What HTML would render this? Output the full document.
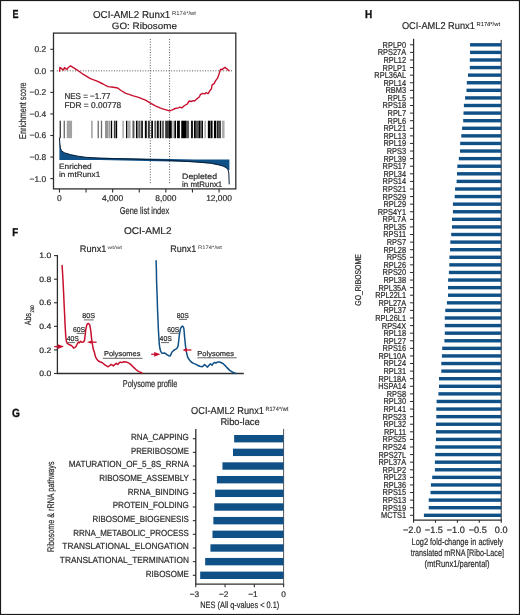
<!DOCTYPE html>
<html><head><meta charset="utf-8"><style>
html,body{margin:0;padding:0;background:#fff;}
body{width:520px;height:615px;overflow:hidden;}
svg{display:block;font-family:"Liberation Sans",sans-serif;will-change:transform;text-rendering:geometricPrecision;}
</style></head><body>
<svg width="520" height="615" viewBox="0 0 520 615">
<rect x="0" y="0" width="520" height="615" fill="#fff"/>
<text x="12.60" y="18.10" font-size="11.63" textLength="6.00" lengthAdjust="spacingAndGlyphs" fill="#111" font-weight="bold" stroke="#111" stroke-width="0.35">E</text>
<text x="93.00" y="17.90" font-size="10.03" textLength="77.30" lengthAdjust="spacingAndGlyphs" fill="#2b2b2b" stroke="#2b2b2b" stroke-width="0.2">OCI-AML2 Runx1</text>
<text x="172.00" y="14.80" font-size="5.52" textLength="24.00" lengthAdjust="spacingAndGlyphs" fill="#2b2b2b">R174*/wt</text>
<text x="111.80" y="29.30" font-size="9.30" textLength="65.10" lengthAdjust="spacingAndGlyphs" fill="#2b2b2b" stroke="#2b2b2b" stroke-width="0.2">GO: Ribosome</text>
<rect x="53.5" y="33.1" width="182.30" height="155.80" fill="none" stroke="#2e2e2e" stroke-width="1.3"/>
<line x1="50.30" y1="49.30" x2="53.50" y2="49.30" stroke="#2e2e2e" stroke-width="1.1"/>
<text x="34.48" y="52.20" font-size="8.36" textLength="11.62" lengthAdjust="spacingAndGlyphs" fill="#2b2b2b" stroke="#2b2b2b" stroke-width="0.2">0.2</text>
<line x1="50.30" y1="70.85" x2="53.50" y2="70.85" stroke="#2e2e2e" stroke-width="1.1"/>
<text x="34.48" y="73.75" font-size="8.36" textLength="11.62" lengthAdjust="spacingAndGlyphs" fill="#2b2b2b" stroke="#2b2b2b" stroke-width="0.2">0.0</text>
<line x1="50.30" y1="92.40" x2="53.50" y2="92.40" stroke="#2e2e2e" stroke-width="1.1"/>
<text x="29.60" y="95.30" font-size="8.36" textLength="16.50" lengthAdjust="spacingAndGlyphs" fill="#2b2b2b" stroke="#2b2b2b" stroke-width="0.2">−0.2</text>
<line x1="50.30" y1="113.95" x2="53.50" y2="113.95" stroke="#2e2e2e" stroke-width="1.1"/>
<text x="29.60" y="116.85" font-size="8.36" textLength="16.50" lengthAdjust="spacingAndGlyphs" fill="#2b2b2b" stroke="#2b2b2b" stroke-width="0.2">−0.4</text>
<line x1="50.30" y1="135.50" x2="53.50" y2="135.50" stroke="#2e2e2e" stroke-width="1.1"/>
<text x="29.60" y="138.40" font-size="8.36" textLength="16.50" lengthAdjust="spacingAndGlyphs" fill="#2b2b2b" stroke="#2b2b2b" stroke-width="0.2">−0.6</text>
<line x1="50.30" y1="157.05" x2="53.50" y2="157.05" stroke="#2e2e2e" stroke-width="1.1"/>
<text x="29.60" y="159.95" font-size="8.36" textLength="16.50" lengthAdjust="spacingAndGlyphs" fill="#2b2b2b" stroke="#2b2b2b" stroke-width="0.2">−0.8</text>
<line x1="50.30" y1="178.60" x2="53.50" y2="178.60" stroke="#2e2e2e" stroke-width="1.1"/>
<text x="29.60" y="181.50" font-size="8.36" textLength="16.50" lengthAdjust="spacingAndGlyphs" fill="#2b2b2b" stroke="#2b2b2b" stroke-width="0.2">−1.0</text>
<line x1="59.45" y1="188.90" x2="59.45" y2="192.60" stroke="#2e2e2e" stroke-width="1.1"/>
<line x1="86.05" y1="188.90" x2="86.05" y2="192.60" stroke="#2e2e2e" stroke-width="1.1"/>
<line x1="112.65" y1="188.90" x2="112.65" y2="192.60" stroke="#2e2e2e" stroke-width="1.1"/>
<line x1="139.25" y1="188.90" x2="139.25" y2="192.60" stroke="#2e2e2e" stroke-width="1.1"/>
<line x1="165.85" y1="188.90" x2="165.85" y2="192.60" stroke="#2e2e2e" stroke-width="1.1"/>
<line x1="192.45" y1="188.90" x2="192.45" y2="192.60" stroke="#2e2e2e" stroke-width="1.1"/>
<line x1="219.05" y1="188.90" x2="219.05" y2="192.60" stroke="#2e2e2e" stroke-width="1.1"/>
<text x="57.11" y="200.80" font-size="8.43" textLength="4.69" lengthAdjust="spacingAndGlyphs" fill="#2b2b2b" stroke="#2b2b2b" stroke-width="0.2">0</text>
<text x="102.10" y="200.80" font-size="8.43" textLength="21.10" lengthAdjust="spacingAndGlyphs" fill="#2b2b2b" stroke="#2b2b2b" stroke-width="0.2">4,000</text>
<text x="155.30" y="200.80" font-size="8.43" textLength="21.10" lengthAdjust="spacingAndGlyphs" fill="#2b2b2b" stroke="#2b2b2b" stroke-width="0.2">8,000</text>
<text x="206.16" y="200.80" font-size="8.43" textLength="25.78" lengthAdjust="spacingAndGlyphs" fill="#2b2b2b" stroke="#2b2b2b" stroke-width="0.2">12,000</text>
<text x="119.70" y="213.60" font-size="9.88" textLength="49.50" lengthAdjust="spacingAndGlyphs" fill="#2b2b2b" stroke="#2b2b2b" stroke-width="0.2">Gene list index</text>
<text transform="rotate(-90)" x="-138.90" y="25.90" font-size="9.88" textLength="56.50" lengthAdjust="spacingAndGlyphs" fill="#2b2b2b" stroke="#2b2b2b" stroke-width="0.2">Enrichment score</text>
<line x1="56.8" y1="70.85" x2="232.3" y2="70.85" stroke="#555" stroke-width="1" stroke-dasharray="1 1.6"/>
<line x1="150.3" y1="39" x2="150.3" y2="183.2" stroke="#555" stroke-width="1" stroke-dasharray="1 1.6"/>
<line x1="169.6" y1="39" x2="169.6" y2="183.2" stroke="#555" stroke-width="1" stroke-dasharray="1 1.6"/>
<rect x="59.65" y="120.7" width="1.20" height="17.5" fill="#000" fill-opacity="0.85"/>
<rect x="63.65" y="120.7" width="1.20" height="17.5" fill="#000" fill-opacity="0.65"/>
<rect x="66.75" y="120.7" width="5.30" height="17.5" fill="#000" fill-opacity="0.36"/>
<rect x="91.15" y="120.7" width="1.50" height="17.5" fill="#000" fill-opacity="0.39"/>
<rect x="97.55" y="120.7" width="1.40" height="17.5" fill="#000" fill-opacity="0.55"/>
<rect x="100.85" y="120.7" width="1.30" height="17.5" fill="#000" fill-opacity="0.59"/>
<rect x="105.05" y="120.7" width="2.90" height="17.5" fill="#000" fill-opacity="0.43"/>
<rect x="108.45" y="120.7" width="1.40" height="17.5" fill="#000" fill-opacity="0.45"/>
<rect x="110.75" y="120.7" width="1.40" height="17.5" fill="#000" fill-opacity="1.00"/>
<rect x="113.85" y="120.7" width="1.70" height="17.5" fill="#000" fill-opacity="0.78"/>
<rect x="115.85" y="120.7" width="1.30" height="17.5" fill="#000" fill-opacity="1.00"/>
<rect x="122.45" y="120.7" width="1.30" height="17.5" fill="#000" fill-opacity="0.39"/>
<rect x="126.05" y="120.7" width="1.30" height="17.5" fill="#000" fill-opacity="1.00"/>
<rect x="127.95" y="120.7" width="2.70" height="17.5" fill="#000" fill-opacity="0.33"/>
<rect x="132.45" y="120.7" width="2.00" height="17.5" fill="#000" fill-opacity="0.65"/>
<rect x="135.95" y="120.7" width="1.60" height="17.5" fill="#000" fill-opacity="1.00"/>
<rect x="138.25" y="120.7" width="2.30" height="17.5" fill="#000" fill-opacity="0.59"/>
<rect x="141.25" y="120.7" width="1.60" height="17.5" fill="#000" fill-opacity="1.00"/>
<rect x="144.85" y="120.7" width="1.90" height="17.5" fill="#000" fill-opacity="1.00"/>
<rect x="147.85" y="120.7" width="2.00" height="17.5" fill="#000" fill-opacity="0.78"/>
<rect x="151.25" y="120.7" width="1.70" height="17.5" fill="#000" fill-opacity="1.00"/>
<rect x="154.35" y="120.7" width="2.00" height="17.5" fill="#000" fill-opacity="0.65"/>
<rect x="157.05" y="120.7" width="1.70" height="17.5" fill="#000" fill-opacity="1.00"/>
<rect x="159.75" y="120.7" width="1.30" height="17.5" fill="#000" fill-opacity="1.00"/>
<rect x="161.65" y="120.7" width="2.40" height="17.5" fill="#000" fill-opacity="0.59"/>
<rect x="165.15" y="120.7" width="3.50" height="17.5" fill="#000" fill-opacity="0.78"/>
<rect x="168.55" y="120.7" width="3.20" height="17.5" fill="#000" fill-opacity="1.00"/>
<rect x="172.45" y="120.7" width="1.30" height="17.5" fill="#000" fill-opacity="0.39"/>
<rect x="174.35" y="120.7" width="1.70" height="17.5" fill="#000" fill-opacity="1.00"/>
<rect x="177.05" y="120.7" width="2.80" height="17.5" fill="#000" fill-opacity="1.00"/>
<rect x="181.25" y="120.7" width="4.80" height="17.5" fill="#000" fill-opacity="1.00"/>
<rect x="185.95" y="120.7" width="3.10" height="17.5" fill="#000" fill-opacity="0.65"/>
<rect x="190.95" y="120.7" width="2.00" height="17.5" fill="#000" fill-opacity="0.91"/>
<rect x="193.95" y="120.7" width="1.70" height="17.5" fill="#000" fill-opacity="1.00"/>
<rect x="195.35" y="120.7" width="3.30" height="17.5" fill="#000" fill-opacity="0.65"/>
<rect x="198.55" y="120.7" width="1.70" height="17.5" fill="#000" fill-opacity="1.00"/>
<rect x="200.15" y="120.7" width="1.60" height="17.5" fill="#000" fill-opacity="0.59"/>
<rect x="201.65" y="120.7" width="1.30" height="17.5" fill="#000" fill-opacity="1.00"/>
<rect x="204.35" y="120.7" width="1.70" height="17.5" fill="#000" fill-opacity="0.33"/>
<rect x="207.85" y="120.7" width="2.40" height="17.5" fill="#000" fill-opacity="1.00"/>
<rect x="210.55" y="120.7" width="2.00" height="17.5" fill="#000" fill-opacity="1.00"/>
<rect x="213.95" y="120.7" width="2.10" height="17.5" fill="#000" fill-opacity="1.00"/>
<rect x="216.65" y="120.7" width="1.70" height="17.5" fill="#000" fill-opacity="0.85"/>
<rect x="218.25" y="120.7" width="2.80" height="17.5" fill="#000" fill-opacity="0.72"/>
<rect x="222.05" y="120.7" width="2.50" height="17.5" fill="#000" fill-opacity="0.33"/>
<path d="M59.40,138.10 L59.80,142.70 L60.40,148.00 L61.50,150.80 L64.20,152.70 L70.40,154.60 L78.10,156.20 L85.80,157.30 L100.00,157.80 L170.00,159.10 L195.00,159.60 L229.40,159.60 L229.40,170.00 L228.10,170.00 L226.50,168.10 L223.50,166.50 L218.10,165.00 L210.40,163.50 L195.00,162.30 L170.00,161.40 L100.00,160.10 L59.40,160.10 Z" fill="#0f5087"/>
<polyline points="59.40,138.10 59.80,142.70 60.40,148.00 61.50,150.80 64.20,152.70 70.40,154.60 78.10,156.20 85.80,157.30 100.00,158.20 130.00,159.00 170.00,160.30 195.00,161.90 210.40,163.20 218.10,164.70 223.50,166.20 226.50,167.90 228.10,169.80 228.80,173.00 229.20,184.00" fill="none" stroke="#0b1e33" stroke-width="1.0" stroke-linejoin="round" stroke-linecap="round"/>
<text x="59.00" y="168.60" font-size="7.70" textLength="32.70" lengthAdjust="spacingAndGlyphs" fill="#2b2b2b" stroke="#2b2b2b" stroke-width="0.2">Enriched</text>
<text x="59.00" y="176.75" font-size="7.70" textLength="41.20" lengthAdjust="spacingAndGlyphs" fill="#2b2b2b" stroke="#2b2b2b" stroke-width="0.2">in mtRunx1</text>
<text x="182.10" y="179.00" font-size="7.85" textLength="34.90" lengthAdjust="spacingAndGlyphs" fill="#2b2b2b" stroke="#2b2b2b" stroke-width="0.2">Depleted</text>
<text x="182.10" y="186.60" font-size="7.85" textLength="40.20" lengthAdjust="spacingAndGlyphs" fill="#2b2b2b" stroke="#2b2b2b" stroke-width="0.2">in mtRunx1</text>
<polyline points="59.60,71.20 59.90,67.40 63.40,70.10 64.50,67.60 66.80,69.50 68.00,67.80 70.60,65.80 76.90,69.80 83.00,74.20 90.40,78.60 97.10,81.20 103.00,84.00 107.90,86.60 113.30,87.30 117.70,88.00 121.00,90.50 125.80,93.40 129.00,94.30 132.50,95.70 138.60,97.40 146.00,100.40 150.00,102.80 155.40,105.80 160.00,107.80 163.50,109.10 168.80,110.70 169.70,110.90 172.40,109.80 175.10,108.50 178.50,107.90 179.80,107.10 181.80,107.90 184.50,105.50 187.20,104.10 189.20,101.00 191.20,101.50 193.30,100.60 194.60,101.00 197.30,98.40 199.30,97.00 200.30,94.70 202.70,93.40 204.70,93.90 206.00,92.70 208.10,93.60 210.10,90.30 211.40,88.90 212.10,84.90 214.10,83.60 215.50,80.90 217.50,78.20 218.80,74.80 220.20,70.10 220.90,69.20 222.20,69.70 223.50,68.30 224.90,67.40 226.20,68.30 228.30,70.10 229.10,70.60" fill="none" stroke="#c8102e" stroke-width="1.4" stroke-linejoin="round" stroke-linecap="round"/>
<text x="64.40" y="99.40" font-size="8.43" textLength="46.00" lengthAdjust="spacingAndGlyphs" fill="#2b2b2b" stroke="#2b2b2b" stroke-width="0.2">NES = −1.77</text>
<text x="64.40" y="107.50" font-size="8.43" textLength="56.80" lengthAdjust="spacingAndGlyphs" fill="#2b2b2b" stroke="#2b2b2b" stroke-width="0.2">FDR = 0.00778</text>
<text x="12.30" y="235.70" font-size="11.34" textLength="5.90" lengthAdjust="spacingAndGlyphs" fill="#111" font-weight="bold" stroke="#111" stroke-width="0.35">F</text>
<text x="123.90" y="234.10" font-size="9.74" textLength="47.70" lengthAdjust="spacingAndGlyphs" fill="#2b2b2b" stroke="#2b2b2b" stroke-width="0.2">OCI-AML2</text>
<text x="79.80" y="251.90" font-size="9.59" textLength="26.70" lengthAdjust="spacingAndGlyphs" fill="#2b2b2b" stroke="#2b2b2b" stroke-width="0.2">Runx1</text>
<text x="107.61" y="249.30" font-size="4.94" textLength="14.49" lengthAdjust="spacingAndGlyphs" fill="#2b2b2b">wt/wt</text>
<text x="170.25" y="252.10" font-size="9.59" textLength="26.00" lengthAdjust="spacingAndGlyphs" fill="#2b2b2b" stroke="#2b2b2b" stroke-width="0.2">Runx1</text>
<text x="198.10" y="249.10" font-size="5.09" textLength="23.80" lengthAdjust="spacingAndGlyphs" fill="#2b2b2b">R174*/wt</text>
<line x1="57.40" y1="255.00" x2="57.40" y2="373.50" stroke="#2e2e2e" stroke-width="1.3"/>
<line x1="56.80" y1="373.50" x2="243.80" y2="373.50" stroke="#2e2e2e" stroke-width="1.3"/>
<line x1="54.00" y1="255.60" x2="57.40" y2="255.60" stroke="#2e2e2e" stroke-width="1.1"/>
<text x="39.20" y="258.25" font-size="7.85" textLength="12.00" lengthAdjust="spacingAndGlyphs" fill="#2b2b2b" stroke="#2b2b2b" stroke-width="0.2">1.0</text>
<line x1="54.00" y1="279.18" x2="57.40" y2="279.18" stroke="#2e2e2e" stroke-width="1.1"/>
<text x="39.20" y="281.83" font-size="7.85" textLength="12.00" lengthAdjust="spacingAndGlyphs" fill="#2b2b2b" stroke="#2b2b2b" stroke-width="0.2">0.8</text>
<line x1="54.00" y1="302.76" x2="57.40" y2="302.76" stroke="#2e2e2e" stroke-width="1.1"/>
<text x="39.20" y="305.41" font-size="7.85" textLength="12.00" lengthAdjust="spacingAndGlyphs" fill="#2b2b2b" stroke="#2b2b2b" stroke-width="0.2">0.6</text>
<line x1="54.00" y1="326.34" x2="57.40" y2="326.34" stroke="#2e2e2e" stroke-width="1.1"/>
<text x="39.20" y="328.99" font-size="7.85" textLength="12.00" lengthAdjust="spacingAndGlyphs" fill="#2b2b2b" stroke="#2b2b2b" stroke-width="0.2">0.4</text>
<line x1="54.00" y1="349.92" x2="57.40" y2="349.92" stroke="#2e2e2e" stroke-width="1.1"/>
<text x="39.20" y="352.57" font-size="7.85" textLength="12.00" lengthAdjust="spacingAndGlyphs" fill="#2b2b2b" stroke="#2b2b2b" stroke-width="0.2">0.2</text>
<line x1="54.00" y1="373.50" x2="57.40" y2="373.50" stroke="#2e2e2e" stroke-width="1.1"/>
<text x="39.20" y="376.15" font-size="7.85" textLength="12.00" lengthAdjust="spacingAndGlyphs" fill="#2b2b2b" stroke="#2b2b2b" stroke-width="0.2">0.0</text>
<text transform="rotate(-90)" x="-325.20" y="31.00" font-size="9.16" textLength="12.40" lengthAdjust="spacingAndGlyphs" fill="#2b2b2b" stroke="#2b2b2b" stroke-width="0.2">Abs</text>
<text transform="rotate(-90)" x="-312.40" y="34.20" font-size="5.09" textLength="7.00" lengthAdjust="spacingAndGlyphs" fill="#2b2b2b" stroke="#2b2b2b" stroke-width="0.2">260</text>
<text x="122.80" y="386.60" font-size="9.88" textLength="54.50" lengthAdjust="spacingAndGlyphs" fill="#2b2b2b" stroke="#2b2b2b" stroke-width="0.2">Polysome profile</text>
<polyline points="62.10,265.50 62.70,275.00 63.20,284.30 63.70,295.00 64.20,306.20 64.70,316.00 65.10,325.20 65.50,332.00 65.80,337.00 66.40,341.30 67.30,343.40 69.00,344.50 70.80,345.20 72.50,346.50 73.60,348.00 74.60,347.80 76.00,346.50 77.20,344.00 78.30,342.00 79.40,342.80 80.60,341.30 81.80,342.20 83.40,342.00 84.50,340.50 85.30,334.00 85.80,329.20 86.90,324.60 88.00,323.40 88.90,323.80 89.80,325.20 90.50,329.00 91.00,332.70 91.50,338.00 92.10,342.00 93.20,349.00 94.40,352.30 95.50,356.90 97.00,359.50 98.40,361.00 100.50,362.00 102.40,362.70 104.00,364.20 105.30,365.20 107.00,366.20 108.20,366.70 109.80,365.50 111.10,364.40 112.30,365.20 113.40,365.90 115.00,364.30 116.30,363.30 117.20,364.20 118.00,364.40 119.30,362.80 120.30,362.10 121.80,362.60 123.80,361.80 125.50,361.90 127.20,362.30 129.00,363.20 130.70,364.40 132.50,366.20 134.20,367.90 136.00,369.50 137.60,370.80 139.00,371.60 140.50,372.20 142.20,373.10" fill="none" stroke="#c8102e" stroke-width="1.5" stroke-linejoin="round" stroke-linecap="round"/>
<polyline points="156.10,260.70 156.40,271.00 156.60,281.80 157.10,295.00 157.50,308.60 158.00,320.00 158.40,330.00 158.90,338.00 159.30,344.30 159.90,348.50 160.70,351.40 162.00,353.30 163.20,353.20 164.60,352.90 166.00,354.00 167.30,354.80 168.70,355.70 170.00,356.00 171.00,354.50 171.80,352.30 173.60,350.50 175.00,349.60 176.30,348.80 177.30,347.80 178.00,346.10 178.70,341.00 179.30,335.40 180.00,331.00 180.70,328.20 181.60,326.60 182.50,326.10 183.20,326.80 183.80,328.20 184.20,332.00 184.60,337.10 185.20,343.00 185.70,347.90 186.60,352.80 187.60,357.00 189.30,359.80 191.20,362.00 193.50,363.40 196.10,364.40 198.00,365.50 199.80,366.30 202.30,366.80 204.60,364.60 206.00,365.80 207.50,367.10 209.00,365.20 210.40,363.90 212.10,365.20 213.30,363.40 214.40,362.50 216.00,363.00 217.90,361.90 219.50,362.00 220.80,362.50 222.30,363.20 223.70,364.20 225.20,365.60 226.50,367.10 228.30,368.90 230.00,370.60 231.80,371.70 233.50,372.50 235.80,373.50" fill="none" stroke="#0f5087" stroke-width="1.5" stroke-linejoin="round" stroke-linecap="round"/>
<text x="82.30" y="318.30" font-size="7.12" textLength="12.70" lengthAdjust="spacingAndGlyphs" fill="#2b2b2b" stroke="#2b2b2b" stroke-width="0.2">80S</text>
<line x1="84.00" y1="319.90" x2="93.60" y2="319.90" stroke="#555" stroke-width="0.9"/>
<text x="73.00" y="331.90" font-size="7.12" textLength="12.20" lengthAdjust="spacingAndGlyphs" fill="#2b2b2b" stroke="#2b2b2b" stroke-width="0.2">60S</text>
<line x1="76.50" y1="333.40" x2="84.60" y2="333.40" stroke="#555" stroke-width="0.9"/>
<text x="66.70" y="341.30" font-size="7.12" textLength="12.10" lengthAdjust="spacingAndGlyphs" fill="#2b2b2b" stroke="#2b2b2b" stroke-width="0.2">40S</text>
<line x1="67.00" y1="342.60" x2="74.80" y2="342.60" stroke="#555" stroke-width="0.9"/>
<text x="176.80" y="317.90" font-size="7.12" textLength="12.00" lengthAdjust="spacingAndGlyphs" fill="#2b2b2b" stroke="#2b2b2b" stroke-width="0.2">80S</text>
<line x1="178.90" y1="319.40" x2="187.00" y2="319.40" stroke="#555" stroke-width="0.9"/>
<text x="167.30" y="332.10" font-size="7.12" textLength="12.00" lengthAdjust="spacingAndGlyphs" fill="#2b2b2b" stroke="#2b2b2b" stroke-width="0.2">60S</text>
<line x1="170.00" y1="333.30" x2="178.90" y2="333.30" stroke="#555" stroke-width="0.9"/>
<text x="159.60" y="341.10" font-size="7.12" textLength="12.20" lengthAdjust="spacingAndGlyphs" fill="#2b2b2b" stroke="#2b2b2b" stroke-width="0.2">40S</text>
<line x1="161.00" y1="342.60" x2="169.10" y2="342.60" stroke="#555" stroke-width="0.9"/>
<text x="103.90" y="355.80" font-size="7.12" textLength="36.60" lengthAdjust="spacingAndGlyphs" fill="#2b2b2b" stroke="#2b2b2b" stroke-width="0.2">Polysomes</text>
<line x1="102.80" y1="358.30" x2="142.50" y2="358.30" stroke="#555" stroke-width="0.9"/>
<text x="197.30" y="355.60" font-size="7.12" textLength="36.70" lengthAdjust="spacingAndGlyphs" fill="#2b2b2b" stroke="#2b2b2b" stroke-width="0.2">Polysomes</text>
<line x1="197.30" y1="357.80" x2="236.70" y2="357.80" stroke="#555" stroke-width="0.9"/>
<path d="M54.20,346.60 L58.20,346.60" stroke="#c8102e" stroke-width="1.3"/>
<path d="M64.00,346.60 L57.70,344.20 L57.70,349.00 Z" fill="#c8102e"/>
<path d="M91.00,342.20 L96.60,342.20" stroke="#c8102e" stroke-width="1.3"/>
<path d="M87.00,342.20 L91.50,340.60 L91.50,343.80 Z" fill="#c8102e"/>
<path d="M151.20,354.30 L154.70,354.30" stroke="#c8102e" stroke-width="1.3"/>
<path d="M160.50,354.30 L154.20,351.90 L154.20,356.70 Z" fill="#c8102e"/>
<path d="M186.50,350.00 L191.40,350.00" stroke="#c8102e" stroke-width="1.3"/>
<path d="M182.50,350.00 L187.00,348.10 L187.00,351.90 Z" fill="#c8102e"/>
<text x="12.10" y="416.50" font-size="11.92" textLength="7.90" lengthAdjust="spacingAndGlyphs" fill="#111" font-weight="bold" stroke="#111" stroke-width="0.35">G</text>
<text x="191.10" y="414.20" font-size="10.03" textLength="72.80" lengthAdjust="spacingAndGlyphs" fill="#2b2b2b" stroke="#2b2b2b" stroke-width="0.2">OCI-AML2 Runx1</text>
<text x="265.40" y="410.70" font-size="5.96" textLength="22.90" lengthAdjust="spacingAndGlyphs" fill="#2b2b2b" stroke="#2b2b2b" stroke-width="0.08">R174*/wt</text>
<text x="220.40" y="425.30" font-size="9.74" textLength="39.30" lengthAdjust="spacingAndGlyphs" fill="#2b2b2b" stroke="#2b2b2b" stroke-width="0.2">Ribo-lace</text>
<line x1="195.80" y1="428.90" x2="195.80" y2="584.20" stroke="#2e2e2e" stroke-width="1.3"/>
<line x1="195.20" y1="584.20" x2="284.20" y2="584.20" stroke="#2e2e2e" stroke-width="1.3"/>
<line x1="283.60" y1="428.90" x2="283.60" y2="584.20" stroke="#555" stroke-width="1.0"/>
<rect x="234.14" y="435.00" width="49.46" height="7.4" fill="#0f5087"/>
<line x1="192.80" y1="438.70" x2="195.80" y2="438.70" stroke="#2e2e2e" stroke-width="1.1"/>
<text x="131.00" y="440.10" font-size="8.87" textLength="57.90" lengthAdjust="spacingAndGlyphs" fill="#2b2b2b" stroke="#2b2b2b" stroke-width="0.2">RNA_CAPPING</text>
<rect x="232.97" y="448.66" width="50.63" height="7.4" fill="#0f5087"/>
<line x1="192.80" y1="452.36" x2="195.80" y2="452.36" stroke="#2e2e2e" stroke-width="1.1"/>
<text x="131.00" y="453.76" font-size="8.87" textLength="57.90" lengthAdjust="spacingAndGlyphs" fill="#2b2b2b" stroke="#2b2b2b" stroke-width="0.2">PRERIBOSOME</text>
<rect x="222.43" y="462.32" width="61.17" height="7.4" fill="#0f5087"/>
<line x1="192.80" y1="466.02" x2="195.80" y2="466.02" stroke="#2e2e2e" stroke-width="1.1"/>
<text x="68.80" y="467.42" font-size="8.87" textLength="120.10" lengthAdjust="spacingAndGlyphs" fill="#2b2b2b" stroke="#2b2b2b" stroke-width="0.2">MATURATION_OF_5_8S_RRNA</text>
<rect x="216.87" y="475.98" width="66.73" height="7.4" fill="#0f5087"/>
<line x1="192.80" y1="479.68" x2="195.80" y2="479.68" stroke="#2e2e2e" stroke-width="1.1"/>
<text x="99.20" y="481.08" font-size="8.87" textLength="89.70" lengthAdjust="spacingAndGlyphs" fill="#2b2b2b" stroke="#2b2b2b" stroke-width="0.2">RIBOSOME_ASSEMBLY</text>
<rect x="215.12" y="489.64" width="68.48" height="7.4" fill="#0f5087"/>
<line x1="192.80" y1="493.34" x2="195.80" y2="493.34" stroke="#2e2e2e" stroke-width="1.1"/>
<text x="127.70" y="494.74" font-size="8.87" textLength="61.20" lengthAdjust="spacingAndGlyphs" fill="#2b2b2b" stroke="#2b2b2b" stroke-width="0.2">RRNA_BINDING</text>
<rect x="214.24" y="503.30" width="69.36" height="7.4" fill="#0f5087"/>
<line x1="192.80" y1="507.00" x2="195.80" y2="507.00" stroke="#2e2e2e" stroke-width="1.1"/>
<text x="112.70" y="508.40" font-size="8.87" textLength="76.20" lengthAdjust="spacingAndGlyphs" fill="#2b2b2b" stroke="#2b2b2b" stroke-width="0.2">PROTEIN_FOLDING</text>
<rect x="213.36" y="516.96" width="70.24" height="7.4" fill="#0f5087"/>
<line x1="192.80" y1="520.66" x2="195.80" y2="520.66" stroke="#2e2e2e" stroke-width="1.1"/>
<text x="92.50" y="522.06" font-size="8.87" textLength="96.40" lengthAdjust="spacingAndGlyphs" fill="#2b2b2b" stroke="#2b2b2b" stroke-width="0.2">RIBOSOME_BIOGENESIS</text>
<rect x="212.48" y="530.62" width="71.12" height="7.4" fill="#0f5087"/>
<line x1="192.80" y1="534.32" x2="195.80" y2="534.32" stroke="#2e2e2e" stroke-width="1.1"/>
<text x="73.30" y="535.72" font-size="8.87" textLength="115.60" lengthAdjust="spacingAndGlyphs" fill="#2b2b2b" stroke="#2b2b2b" stroke-width="0.2">RRNA_METABOLIC_PROCESS</text>
<rect x="210.43" y="544.28" width="73.17" height="7.4" fill="#0f5087"/>
<line x1="192.80" y1="547.98" x2="195.80" y2="547.98" stroke="#2e2e2e" stroke-width="1.1"/>
<text x="62.30" y="549.38" font-size="8.87" textLength="126.60" lengthAdjust="spacingAndGlyphs" fill="#2b2b2b" stroke="#2b2b2b" stroke-width="0.2">TRANSLATIONAL_ELONGATION</text>
<rect x="205.17" y="557.94" width="78.43" height="7.4" fill="#0f5087"/>
<line x1="192.80" y1="561.64" x2="195.80" y2="561.64" stroke="#2e2e2e" stroke-width="1.1"/>
<text x="59.80" y="563.04" font-size="8.87" textLength="129.10" lengthAdjust="spacingAndGlyphs" fill="#2b2b2b" stroke="#2b2b2b" stroke-width="0.2">TRANSLATIONAL_TERMINATION</text>
<rect x="200.19" y="571.60" width="83.41" height="7.4" fill="#0f5087"/>
<line x1="192.80" y1="575.30" x2="195.80" y2="575.30" stroke="#2e2e2e" stroke-width="1.1"/>
<text x="145.80" y="576.70" font-size="8.87" textLength="43.10" lengthAdjust="spacingAndGlyphs" fill="#2b2b2b" stroke="#2b2b2b" stroke-width="0.2">RIBOSOME</text>
<line x1="195.80" y1="584.20" x2="195.80" y2="587.20" stroke="#2e2e2e" stroke-width="1.1"/>
<text x="189.68" y="596.70" font-size="8.28" textLength="9.45" lengthAdjust="spacingAndGlyphs" fill="#2b2b2b" stroke="#2b2b2b" stroke-width="0.2">−3</text>
<line x1="225.07" y1="584.20" x2="225.07" y2="587.20" stroke="#2e2e2e" stroke-width="1.1"/>
<text x="218.94" y="596.70" font-size="8.28" textLength="9.45" lengthAdjust="spacingAndGlyphs" fill="#2b2b2b" stroke="#2b2b2b" stroke-width="0.2">−2</text>
<line x1="254.33" y1="584.20" x2="254.33" y2="587.20" stroke="#2e2e2e" stroke-width="1.1"/>
<text x="248.21" y="596.70" font-size="8.28" textLength="9.45" lengthAdjust="spacingAndGlyphs" fill="#2b2b2b" stroke="#2b2b2b" stroke-width="0.2">−1</text>
<line x1="283.60" y1="584.20" x2="283.60" y2="587.20" stroke="#2e2e2e" stroke-width="1.1"/>
<text x="281.30" y="596.70" font-size="8.28" textLength="4.61" lengthAdjust="spacingAndGlyphs" fill="#2b2b2b" stroke="#2b2b2b" stroke-width="0.2">0</text>
<text x="200.30" y="607.70" font-size="9.16" textLength="78.90" lengthAdjust="spacingAndGlyphs" fill="#2b2b2b" stroke="#2b2b2b" stroke-width="0.2">NES (All q-values &lt; 0.1)</text>
<text transform="rotate(-90)" x="-552.00" y="54.00" font-size="9.59" textLength="90.50" lengthAdjust="spacingAndGlyphs" fill="#2b2b2b" stroke="#2b2b2b" stroke-width="0.2">Ribosome &amp; rRNA pathways</text>
<text x="365.10" y="17.80" font-size="11.19" textLength="7.20" lengthAdjust="spacingAndGlyphs" fill="#111" font-weight="bold" stroke="#111" stroke-width="0.35">H</text>
<text x="401.90" y="28.70" font-size="9.88" textLength="72.90" lengthAdjust="spacingAndGlyphs" fill="#2b2b2b" stroke="#2b2b2b" stroke-width="0.2">OCI-AML2 Runx1</text>
<text x="476.50" y="25.70" font-size="5.67" textLength="23.50" lengthAdjust="spacingAndGlyphs" fill="#2b2b2b" stroke="#2b2b2b" stroke-width="0.08">R174*/wt</text>
<line x1="413.60" y1="38.80" x2="413.60" y2="520.10" stroke="#2e2e2e" stroke-width="1.2"/>
<line x1="413.00" y1="520.10" x2="501.80" y2="520.10" stroke="#2e2e2e" stroke-width="1.2"/>
<line x1="501.20" y1="39.90" x2="501.20" y2="520.10" stroke="#2a2a2a" stroke-width="1.0"/>
<rect x="470.05" y="43.10" width="31.15" height="3.4" fill="#0f5087"/>
<line x1="410.00" y1="44.80" x2="413.60" y2="44.80" stroke="#2e2e2e" stroke-width="1.0"/>
<text x="382.62" y="47.75" font-size="8.72" textLength="23.49" lengthAdjust="spacingAndGlyphs" fill="#2b2b2b" stroke="#2b2b2b" stroke-width="0.2">RPLP0</text>
<rect x="470.05" y="50.69" width="31.15" height="3.4" fill="#0f5087"/>
<line x1="410.00" y1="52.39" x2="413.60" y2="52.39" stroke="#2e2e2e" stroke-width="1.0"/>
<text x="377.67" y="55.34" font-size="8.72" textLength="28.43" lengthAdjust="spacingAndGlyphs" fill="#2b2b2b" stroke="#2b2b2b" stroke-width="0.2">RPS27A</text>
<rect x="469.80" y="58.28" width="31.40" height="3.4" fill="#0f5087"/>
<line x1="410.00" y1="59.98" x2="413.60" y2="59.98" stroke="#2e2e2e" stroke-width="1.0"/>
<text x="383.43" y="62.93" font-size="8.72" textLength="22.67" lengthAdjust="spacingAndGlyphs" fill="#2b2b2b" stroke="#2b2b2b" stroke-width="0.2">RPL12</text>
<rect x="469.80" y="65.87" width="31.40" height="3.4" fill="#0f5087"/>
<line x1="410.00" y1="67.57" x2="413.60" y2="67.57" stroke="#2e2e2e" stroke-width="1.0"/>
<text x="382.62" y="70.52" font-size="8.72" textLength="23.49" lengthAdjust="spacingAndGlyphs" fill="#2b2b2b" stroke="#2b2b2b" stroke-width="0.2">RPLP1</text>
<rect x="468.00" y="73.45" width="33.20" height="3.4" fill="#0f5087"/>
<line x1="410.00" y1="75.15" x2="413.60" y2="75.15" stroke="#2e2e2e" stroke-width="1.0"/>
<text x="374.37" y="78.10" font-size="8.72" textLength="31.73" lengthAdjust="spacingAndGlyphs" fill="#2b2b2b" stroke="#2b2b2b" stroke-width="0.2">RPL36AL</text>
<rect x="466.80" y="81.04" width="34.40" height="3.4" fill="#0f5087"/>
<line x1="410.00" y1="82.74" x2="413.60" y2="82.74" stroke="#2e2e2e" stroke-width="1.0"/>
<text x="383.43" y="85.69" font-size="8.72" textLength="22.67" lengthAdjust="spacingAndGlyphs" fill="#2b2b2b" stroke="#2b2b2b" stroke-width="0.2">RPL14</text>
<rect x="466.50" y="88.63" width="34.70" height="3.4" fill="#0f5087"/>
<line x1="410.00" y1="90.33" x2="413.60" y2="90.33" stroke="#2e2e2e" stroke-width="1.0"/>
<text x="385.51" y="93.28" font-size="8.72" textLength="20.60" lengthAdjust="spacingAndGlyphs" fill="#2b2b2b" stroke="#2b2b2b" stroke-width="0.2">RBM3</text>
<rect x="465.10" y="96.22" width="36.10" height="3.4" fill="#0f5087"/>
<line x1="410.00" y1="97.92" x2="413.60" y2="97.92" stroke="#2e2e2e" stroke-width="1.0"/>
<text x="387.56" y="100.87" font-size="8.72" textLength="18.54" lengthAdjust="spacingAndGlyphs" fill="#2b2b2b" stroke="#2b2b2b" stroke-width="0.2">RPL5</text>
<rect x="463.90" y="103.81" width="37.30" height="3.4" fill="#0f5087"/>
<line x1="410.00" y1="105.51" x2="413.60" y2="105.51" stroke="#2e2e2e" stroke-width="1.0"/>
<text x="382.62" y="108.46" font-size="8.72" textLength="23.49" lengthAdjust="spacingAndGlyphs" fill="#2b2b2b" stroke="#2b2b2b" stroke-width="0.2">RPS18</text>
<rect x="463.50" y="111.40" width="37.70" height="3.4" fill="#0f5087"/>
<line x1="410.00" y1="113.10" x2="413.60" y2="113.10" stroke="#2e2e2e" stroke-width="1.0"/>
<text x="387.56" y="116.05" font-size="8.72" textLength="18.54" lengthAdjust="spacingAndGlyphs" fill="#2b2b2b" stroke="#2b2b2b" stroke-width="0.2">RPL7</text>
<rect x="463.20" y="118.99" width="38.00" height="3.4" fill="#0f5087"/>
<line x1="410.00" y1="120.69" x2="413.60" y2="120.69" stroke="#2e2e2e" stroke-width="1.0"/>
<text x="387.56" y="123.64" font-size="8.72" textLength="18.54" lengthAdjust="spacingAndGlyphs" fill="#2b2b2b" stroke="#2b2b2b" stroke-width="0.2">RPL6</text>
<rect x="462.10" y="126.58" width="39.10" height="3.4" fill="#0f5087"/>
<line x1="410.00" y1="128.28" x2="413.60" y2="128.28" stroke="#2e2e2e" stroke-width="1.0"/>
<text x="383.43" y="131.23" font-size="8.72" textLength="22.67" lengthAdjust="spacingAndGlyphs" fill="#2b2b2b" stroke="#2b2b2b" stroke-width="0.2">RPL21</text>
<rect x="461.30" y="134.16" width="39.90" height="3.4" fill="#0f5087"/>
<line x1="410.00" y1="135.86" x2="413.60" y2="135.86" stroke="#2e2e2e" stroke-width="1.0"/>
<text x="383.43" y="138.81" font-size="8.72" textLength="22.67" lengthAdjust="spacingAndGlyphs" fill="#2b2b2b" stroke="#2b2b2b" stroke-width="0.2">RPL13</text>
<rect x="460.20" y="141.75" width="41.00" height="3.4" fill="#0f5087"/>
<line x1="410.00" y1="143.45" x2="413.60" y2="143.45" stroke="#2e2e2e" stroke-width="1.0"/>
<text x="383.43" y="146.40" font-size="8.72" textLength="22.67" lengthAdjust="spacingAndGlyphs" fill="#2b2b2b" stroke="#2b2b2b" stroke-width="0.2">RPL19</text>
<rect x="460.00" y="149.34" width="41.20" height="3.4" fill="#0f5087"/>
<line x1="410.00" y1="151.04" x2="413.60" y2="151.04" stroke="#2e2e2e" stroke-width="1.0"/>
<text x="386.74" y="153.99" font-size="8.72" textLength="19.36" lengthAdjust="spacingAndGlyphs" fill="#2b2b2b" stroke="#2b2b2b" stroke-width="0.2">RPS3</text>
<rect x="458.80" y="156.93" width="42.40" height="3.4" fill="#0f5087"/>
<line x1="410.00" y1="158.63" x2="413.60" y2="158.63" stroke="#2e2e2e" stroke-width="1.0"/>
<text x="383.43" y="161.58" font-size="8.72" textLength="22.67" lengthAdjust="spacingAndGlyphs" fill="#2b2b2b" stroke="#2b2b2b" stroke-width="0.2">RPL39</text>
<rect x="457.30" y="164.52" width="43.90" height="3.4" fill="#0f5087"/>
<line x1="410.00" y1="166.22" x2="413.60" y2="166.22" stroke="#2e2e2e" stroke-width="1.0"/>
<text x="382.62" y="169.17" font-size="8.72" textLength="23.49" lengthAdjust="spacingAndGlyphs" fill="#2b2b2b" stroke="#2b2b2b" stroke-width="0.2">RPS17</text>
<rect x="457.00" y="172.11" width="44.20" height="3.4" fill="#0f5087"/>
<line x1="410.00" y1="173.81" x2="413.60" y2="173.81" stroke="#2e2e2e" stroke-width="1.0"/>
<text x="383.43" y="176.76" font-size="8.72" textLength="22.67" lengthAdjust="spacingAndGlyphs" fill="#2b2b2b" stroke="#2b2b2b" stroke-width="0.2">RPL34</text>
<rect x="456.60" y="179.70" width="44.60" height="3.4" fill="#0f5087"/>
<line x1="410.00" y1="181.40" x2="413.60" y2="181.40" stroke="#2e2e2e" stroke-width="1.0"/>
<text x="382.62" y="184.35" font-size="8.72" textLength="23.49" lengthAdjust="spacingAndGlyphs" fill="#2b2b2b" stroke="#2b2b2b" stroke-width="0.2">RPS14</text>
<rect x="455.10" y="187.29" width="46.10" height="3.4" fill="#0f5087"/>
<line x1="410.00" y1="188.99" x2="413.60" y2="188.99" stroke="#2e2e2e" stroke-width="1.0"/>
<text x="382.62" y="191.94" font-size="8.72" textLength="23.49" lengthAdjust="spacingAndGlyphs" fill="#2b2b2b" stroke="#2b2b2b" stroke-width="0.2">RPS21</text>
<rect x="454.70" y="194.87" width="46.50" height="3.4" fill="#0f5087"/>
<line x1="410.00" y1="196.57" x2="413.60" y2="196.57" stroke="#2e2e2e" stroke-width="1.0"/>
<text x="382.62" y="199.52" font-size="8.72" textLength="23.49" lengthAdjust="spacingAndGlyphs" fill="#2b2b2b" stroke="#2b2b2b" stroke-width="0.2">RPS29</text>
<rect x="452.90" y="202.46" width="48.30" height="3.4" fill="#0f5087"/>
<line x1="410.00" y1="204.16" x2="413.60" y2="204.16" stroke="#2e2e2e" stroke-width="1.0"/>
<text x="383.43" y="207.11" font-size="8.72" textLength="22.67" lengthAdjust="spacingAndGlyphs" fill="#2b2b2b" stroke="#2b2b2b" stroke-width="0.2">RPL29</text>
<rect x="452.90" y="210.05" width="48.30" height="3.4" fill="#0f5087"/>
<line x1="410.00" y1="211.75" x2="413.60" y2="211.75" stroke="#2e2e2e" stroke-width="1.0"/>
<text x="377.67" y="214.70" font-size="8.72" textLength="28.43" lengthAdjust="spacingAndGlyphs" fill="#2b2b2b" stroke="#2b2b2b" stroke-width="0.2">RPS4Y1</text>
<rect x="452.00" y="217.64" width="49.20" height="3.4" fill="#0f5087"/>
<line x1="410.00" y1="219.34" x2="413.60" y2="219.34" stroke="#2e2e2e" stroke-width="1.0"/>
<text x="382.62" y="222.29" font-size="8.72" textLength="23.49" lengthAdjust="spacingAndGlyphs" fill="#2b2b2b" stroke="#2b2b2b" stroke-width="0.2">RPL7A</text>
<rect x="452.00" y="225.23" width="49.20" height="3.4" fill="#0f5087"/>
<line x1="410.00" y1="226.93" x2="413.60" y2="226.93" stroke="#2e2e2e" stroke-width="1.0"/>
<text x="383.43" y="229.88" font-size="8.72" textLength="22.67" lengthAdjust="spacingAndGlyphs" fill="#2b2b2b" stroke="#2b2b2b" stroke-width="0.2">RPL35</text>
<rect x="451.20" y="232.82" width="50.00" height="3.4" fill="#0f5087"/>
<line x1="410.00" y1="234.52" x2="413.60" y2="234.52" stroke="#2e2e2e" stroke-width="1.0"/>
<text x="383.16" y="237.47" font-size="8.72" textLength="22.94" lengthAdjust="spacingAndGlyphs" fill="#2b2b2b" stroke="#2b2b2b" stroke-width="0.2">RPS11</text>
<rect x="450.30" y="240.41" width="50.90" height="3.4" fill="#0f5087"/>
<line x1="410.00" y1="242.11" x2="413.60" y2="242.11" stroke="#2e2e2e" stroke-width="1.0"/>
<text x="386.74" y="245.06" font-size="8.72" textLength="19.36" lengthAdjust="spacingAndGlyphs" fill="#2b2b2b" stroke="#2b2b2b" stroke-width="0.2">RPS7</text>
<rect x="450.00" y="248.00" width="51.20" height="3.4" fill="#0f5087"/>
<line x1="410.00" y1="249.70" x2="413.60" y2="249.70" stroke="#2e2e2e" stroke-width="1.0"/>
<text x="383.43" y="252.65" font-size="8.72" textLength="22.67" lengthAdjust="spacingAndGlyphs" fill="#2b2b2b" stroke="#2b2b2b" stroke-width="0.2">RPL28</text>
<rect x="449.40" y="255.58" width="51.80" height="3.4" fill="#0f5087"/>
<line x1="410.00" y1="257.28" x2="413.60" y2="257.28" stroke="#2e2e2e" stroke-width="1.0"/>
<text x="386.74" y="260.23" font-size="8.72" textLength="19.36" lengthAdjust="spacingAndGlyphs" fill="#2b2b2b" stroke="#2b2b2b" stroke-width="0.2">RPS5</text>
<rect x="449.30" y="263.17" width="51.90" height="3.4" fill="#0f5087"/>
<line x1="410.00" y1="264.87" x2="413.60" y2="264.87" stroke="#2e2e2e" stroke-width="1.0"/>
<text x="383.43" y="267.82" font-size="8.72" textLength="22.67" lengthAdjust="spacingAndGlyphs" fill="#2b2b2b" stroke="#2b2b2b" stroke-width="0.2">RPL26</text>
<rect x="448.90" y="270.76" width="52.30" height="3.4" fill="#0f5087"/>
<line x1="410.00" y1="272.46" x2="413.60" y2="272.46" stroke="#2e2e2e" stroke-width="1.0"/>
<text x="382.62" y="275.41" font-size="8.72" textLength="23.49" lengthAdjust="spacingAndGlyphs" fill="#2b2b2b" stroke="#2b2b2b" stroke-width="0.2">RPS20</text>
<rect x="448.10" y="278.35" width="53.10" height="3.4" fill="#0f5087"/>
<line x1="410.00" y1="280.05" x2="413.60" y2="280.05" stroke="#2e2e2e" stroke-width="1.0"/>
<text x="383.43" y="283.00" font-size="8.72" textLength="22.67" lengthAdjust="spacingAndGlyphs" fill="#2b2b2b" stroke="#2b2b2b" stroke-width="0.2">RPL38</text>
<rect x="448.00" y="285.94" width="53.20" height="3.4" fill="#0f5087"/>
<line x1="410.00" y1="287.64" x2="413.60" y2="287.64" stroke="#2e2e2e" stroke-width="1.0"/>
<text x="378.49" y="290.59" font-size="8.72" textLength="27.61" lengthAdjust="spacingAndGlyphs" fill="#2b2b2b" stroke="#2b2b2b" stroke-width="0.2">RPL35A</text>
<rect x="448.00" y="293.53" width="53.20" height="3.4" fill="#0f5087"/>
<line x1="410.00" y1="295.23" x2="413.60" y2="295.23" stroke="#2e2e2e" stroke-width="1.0"/>
<text x="375.19" y="298.18" font-size="8.72" textLength="30.91" lengthAdjust="spacingAndGlyphs" fill="#2b2b2b" stroke="#2b2b2b" stroke-width="0.2">RPL22L1</text>
<rect x="446.90" y="301.12" width="54.30" height="3.4" fill="#0f5087"/>
<line x1="410.00" y1="302.82" x2="413.60" y2="302.82" stroke="#2e2e2e" stroke-width="1.0"/>
<text x="378.49" y="305.77" font-size="8.72" textLength="27.61" lengthAdjust="spacingAndGlyphs" fill="#2b2b2b" stroke="#2b2b2b" stroke-width="0.2">RPL27A</text>
<rect x="445.30" y="308.70" width="55.90" height="3.4" fill="#0f5087"/>
<line x1="410.00" y1="310.40" x2="413.60" y2="310.40" stroke="#2e2e2e" stroke-width="1.0"/>
<text x="383.43" y="313.35" font-size="8.72" textLength="22.67" lengthAdjust="spacingAndGlyphs" fill="#2b2b2b" stroke="#2b2b2b" stroke-width="0.2">RPL37</text>
<rect x="444.80" y="316.29" width="56.40" height="3.4" fill="#0f5087"/>
<line x1="410.00" y1="317.99" x2="413.60" y2="317.99" stroke="#2e2e2e" stroke-width="1.0"/>
<text x="375.19" y="320.94" font-size="8.72" textLength="30.91" lengthAdjust="spacingAndGlyphs" fill="#2b2b2b" stroke="#2b2b2b" stroke-width="0.2">RPL26L1</text>
<rect x="444.80" y="323.88" width="56.40" height="3.4" fill="#0f5087"/>
<line x1="410.00" y1="325.58" x2="413.60" y2="325.58" stroke="#2e2e2e" stroke-width="1.0"/>
<text x="381.79" y="328.53" font-size="8.72" textLength="24.31" lengthAdjust="spacingAndGlyphs" fill="#2b2b2b" stroke="#2b2b2b" stroke-width="0.2">RPS4X</text>
<rect x="444.80" y="331.47" width="56.40" height="3.4" fill="#0f5087"/>
<line x1="410.00" y1="333.17" x2="413.60" y2="333.17" stroke="#2e2e2e" stroke-width="1.0"/>
<text x="383.43" y="336.12" font-size="8.72" textLength="22.67" lengthAdjust="spacingAndGlyphs" fill="#2b2b2b" stroke="#2b2b2b" stroke-width="0.2">RPL18</text>
<rect x="444.40" y="339.06" width="56.80" height="3.4" fill="#0f5087"/>
<line x1="410.00" y1="340.76" x2="413.60" y2="340.76" stroke="#2e2e2e" stroke-width="1.0"/>
<text x="383.43" y="343.71" font-size="8.72" textLength="22.67" lengthAdjust="spacingAndGlyphs" fill="#2b2b2b" stroke="#2b2b2b" stroke-width="0.2">RPL27</text>
<rect x="442.20" y="346.65" width="59.00" height="3.4" fill="#0f5087"/>
<line x1="410.00" y1="348.35" x2="413.60" y2="348.35" stroke="#2e2e2e" stroke-width="1.0"/>
<text x="382.62" y="351.30" font-size="8.72" textLength="23.49" lengthAdjust="spacingAndGlyphs" fill="#2b2b2b" stroke="#2b2b2b" stroke-width="0.2">RPS16</text>
<rect x="441.90" y="354.24" width="59.30" height="3.4" fill="#0f5087"/>
<line x1="410.00" y1="355.94" x2="413.60" y2="355.94" stroke="#2e2e2e" stroke-width="1.0"/>
<text x="378.49" y="358.89" font-size="8.72" textLength="27.61" lengthAdjust="spacingAndGlyphs" fill="#2b2b2b" stroke="#2b2b2b" stroke-width="0.2">RPL10A</text>
<rect x="441.30" y="361.83" width="59.90" height="3.4" fill="#0f5087"/>
<line x1="410.00" y1="363.53" x2="413.60" y2="363.53" stroke="#2e2e2e" stroke-width="1.0"/>
<text x="383.43" y="366.48" font-size="8.72" textLength="22.67" lengthAdjust="spacingAndGlyphs" fill="#2b2b2b" stroke="#2b2b2b" stroke-width="0.2">RPL24</text>
<rect x="441.30" y="369.41" width="59.90" height="3.4" fill="#0f5087"/>
<line x1="410.00" y1="371.11" x2="413.60" y2="371.11" stroke="#2e2e2e" stroke-width="1.0"/>
<text x="383.43" y="374.06" font-size="8.72" textLength="22.67" lengthAdjust="spacingAndGlyphs" fill="#2b2b2b" stroke="#2b2b2b" stroke-width="0.2">RPL31</text>
<rect x="439.00" y="377.00" width="62.20" height="3.4" fill="#0f5087"/>
<line x1="410.00" y1="378.70" x2="413.60" y2="378.70" stroke="#2e2e2e" stroke-width="1.0"/>
<text x="378.49" y="381.65" font-size="8.72" textLength="27.61" lengthAdjust="spacingAndGlyphs" fill="#2b2b2b" stroke="#2b2b2b" stroke-width="0.2">RPL18A</text>
<rect x="439.00" y="384.59" width="62.20" height="3.4" fill="#0f5087"/>
<line x1="410.00" y1="386.29" x2="413.60" y2="386.29" stroke="#2e2e2e" stroke-width="1.0"/>
<text x="378.22" y="389.24" font-size="8.72" textLength="27.88" lengthAdjust="spacingAndGlyphs" fill="#2b2b2b" stroke="#2b2b2b" stroke-width="0.2">HSPA14</text>
<rect x="438.40" y="392.18" width="62.80" height="3.4" fill="#0f5087"/>
<line x1="410.00" y1="393.88" x2="413.60" y2="393.88" stroke="#2e2e2e" stroke-width="1.0"/>
<text x="386.74" y="396.83" font-size="8.72" textLength="19.36" lengthAdjust="spacingAndGlyphs" fill="#2b2b2b" stroke="#2b2b2b" stroke-width="0.2">RPS8</text>
<rect x="436.60" y="399.77" width="64.60" height="3.4" fill="#0f5087"/>
<line x1="410.00" y1="401.47" x2="413.60" y2="401.47" stroke="#2e2e2e" stroke-width="1.0"/>
<text x="383.43" y="404.42" font-size="8.72" textLength="22.67" lengthAdjust="spacingAndGlyphs" fill="#2b2b2b" stroke="#2b2b2b" stroke-width="0.2">RPL30</text>
<rect x="436.30" y="407.36" width="64.90" height="3.4" fill="#0f5087"/>
<line x1="410.00" y1="409.06" x2="413.60" y2="409.06" stroke="#2e2e2e" stroke-width="1.0"/>
<text x="383.43" y="412.01" font-size="8.72" textLength="22.67" lengthAdjust="spacingAndGlyphs" fill="#2b2b2b" stroke="#2b2b2b" stroke-width="0.2">RPL41</text>
<rect x="436.30" y="414.95" width="64.90" height="3.4" fill="#0f5087"/>
<line x1="410.00" y1="416.65" x2="413.60" y2="416.65" stroke="#2e2e2e" stroke-width="1.0"/>
<text x="382.62" y="419.60" font-size="8.72" textLength="23.49" lengthAdjust="spacingAndGlyphs" fill="#2b2b2b" stroke="#2b2b2b" stroke-width="0.2">RPS23</text>
<rect x="436.00" y="422.54" width="65.20" height="3.4" fill="#0f5087"/>
<line x1="410.00" y1="424.24" x2="413.60" y2="424.24" stroke="#2e2e2e" stroke-width="1.0"/>
<text x="383.43" y="427.19" font-size="8.72" textLength="22.67" lengthAdjust="spacingAndGlyphs" fill="#2b2b2b" stroke="#2b2b2b" stroke-width="0.2">RPL32</text>
<rect x="436.00" y="430.12" width="65.20" height="3.4" fill="#0f5087"/>
<line x1="410.00" y1="431.82" x2="413.60" y2="431.82" stroke="#2e2e2e" stroke-width="1.0"/>
<text x="383.99" y="434.77" font-size="8.72" textLength="22.12" lengthAdjust="spacingAndGlyphs" fill="#2b2b2b" stroke="#2b2b2b" stroke-width="0.2">RPL11</text>
<rect x="436.00" y="437.71" width="65.20" height="3.4" fill="#0f5087"/>
<line x1="410.00" y1="439.41" x2="413.60" y2="439.41" stroke="#2e2e2e" stroke-width="1.0"/>
<text x="382.62" y="442.36" font-size="8.72" textLength="23.49" lengthAdjust="spacingAndGlyphs" fill="#2b2b2b" stroke="#2b2b2b" stroke-width="0.2">RPS25</text>
<rect x="435.20" y="445.30" width="66.00" height="3.4" fill="#0f5087"/>
<line x1="410.00" y1="447.00" x2="413.60" y2="447.00" stroke="#2e2e2e" stroke-width="1.0"/>
<text x="382.62" y="449.95" font-size="8.72" textLength="23.49" lengthAdjust="spacingAndGlyphs" fill="#2b2b2b" stroke="#2b2b2b" stroke-width="0.2">RPS24</text>
<rect x="435.20" y="452.89" width="66.00" height="3.4" fill="#0f5087"/>
<line x1="410.00" y1="454.59" x2="413.60" y2="454.59" stroke="#2e2e2e" stroke-width="1.0"/>
<text x="378.49" y="457.54" font-size="8.72" textLength="27.61" lengthAdjust="spacingAndGlyphs" fill="#2b2b2b" stroke="#2b2b2b" stroke-width="0.2">RPS27L</text>
<rect x="434.90" y="460.48" width="66.30" height="3.4" fill="#0f5087"/>
<line x1="410.00" y1="462.18" x2="413.60" y2="462.18" stroke="#2e2e2e" stroke-width="1.0"/>
<text x="378.49" y="465.13" font-size="8.72" textLength="27.61" lengthAdjust="spacingAndGlyphs" fill="#2b2b2b" stroke="#2b2b2b" stroke-width="0.2">RPL37A</text>
<rect x="434.90" y="468.07" width="66.30" height="3.4" fill="#0f5087"/>
<line x1="410.00" y1="469.77" x2="413.60" y2="469.77" stroke="#2e2e2e" stroke-width="1.0"/>
<text x="382.62" y="472.72" font-size="8.72" textLength="23.49" lengthAdjust="spacingAndGlyphs" fill="#2b2b2b" stroke="#2b2b2b" stroke-width="0.2">RPLP2</text>
<rect x="432.20" y="475.66" width="69.00" height="3.4" fill="#0f5087"/>
<line x1="410.00" y1="477.36" x2="413.60" y2="477.36" stroke="#2e2e2e" stroke-width="1.0"/>
<text x="383.43" y="480.31" font-size="8.72" textLength="22.67" lengthAdjust="spacingAndGlyphs" fill="#2b2b2b" stroke="#2b2b2b" stroke-width="0.2">RPL23</text>
<rect x="430.90" y="483.25" width="70.30" height="3.4" fill="#0f5087"/>
<line x1="410.00" y1="484.95" x2="413.60" y2="484.95" stroke="#2e2e2e" stroke-width="1.0"/>
<text x="383.43" y="487.90" font-size="8.72" textLength="22.67" lengthAdjust="spacingAndGlyphs" fill="#2b2b2b" stroke="#2b2b2b" stroke-width="0.2">RPL36</text>
<rect x="430.50" y="490.83" width="70.70" height="3.4" fill="#0f5087"/>
<line x1="410.00" y1="492.53" x2="413.60" y2="492.53" stroke="#2e2e2e" stroke-width="1.0"/>
<text x="382.62" y="495.48" font-size="8.72" textLength="23.49" lengthAdjust="spacingAndGlyphs" fill="#2b2b2b" stroke="#2b2b2b" stroke-width="0.2">RPS15</text>
<rect x="428.70" y="498.42" width="72.50" height="3.4" fill="#0f5087"/>
<line x1="410.00" y1="500.12" x2="413.60" y2="500.12" stroke="#2e2e2e" stroke-width="1.0"/>
<text x="382.62" y="503.07" font-size="8.72" textLength="23.49" lengthAdjust="spacingAndGlyphs" fill="#2b2b2b" stroke="#2b2b2b" stroke-width="0.2">RPS13</text>
<rect x="428.70" y="506.01" width="72.50" height="3.4" fill="#0f5087"/>
<line x1="410.00" y1="507.71" x2="413.60" y2="507.71" stroke="#2e2e2e" stroke-width="1.0"/>
<text x="382.62" y="510.66" font-size="8.72" textLength="23.49" lengthAdjust="spacingAndGlyphs" fill="#2b2b2b" stroke="#2b2b2b" stroke-width="0.2">RPS19</text>
<rect x="423.90" y="513.60" width="77.30" height="3.4" fill="#0f5087"/>
<line x1="410.00" y1="515.30" x2="413.60" y2="515.30" stroke="#2e2e2e" stroke-width="1.0"/>
<text x="380.98" y="518.25" font-size="8.72" textLength="25.12" lengthAdjust="spacingAndGlyphs" fill="#2b2b2b" stroke="#2b2b2b" stroke-width="0.2">MCTS1</text>
<line x1="413.60" y1="520.10" x2="413.60" y2="522.80" stroke="#2e2e2e" stroke-width="1.1"/>
<text x="402.96" y="533.00" font-size="9.16" textLength="18.08" lengthAdjust="spacingAndGlyphs" fill="#2b2b2b" stroke="#2b2b2b" stroke-width="0.2">−2.0</text>
<line x1="435.50" y1="520.10" x2="435.50" y2="522.80" stroke="#2e2e2e" stroke-width="1.1"/>
<text x="424.86" y="533.00" font-size="9.16" textLength="18.08" lengthAdjust="spacingAndGlyphs" fill="#2b2b2b" stroke="#2b2b2b" stroke-width="0.2">−1.5</text>
<line x1="457.40" y1="520.10" x2="457.40" y2="522.80" stroke="#2e2e2e" stroke-width="1.1"/>
<text x="446.76" y="533.00" font-size="9.16" textLength="18.08" lengthAdjust="spacingAndGlyphs" fill="#2b2b2b" stroke="#2b2b2b" stroke-width="0.2">−1.0</text>
<line x1="479.30" y1="520.10" x2="479.30" y2="522.80" stroke="#2e2e2e" stroke-width="1.1"/>
<text x="468.66" y="533.00" font-size="9.16" textLength="18.08" lengthAdjust="spacingAndGlyphs" fill="#2b2b2b" stroke="#2b2b2b" stroke-width="0.2">−0.5</text>
<line x1="501.20" y1="520.10" x2="501.20" y2="522.80" stroke="#2e2e2e" stroke-width="1.1"/>
<text x="494.84" y="533.00" font-size="9.16" textLength="12.73" lengthAdjust="spacingAndGlyphs" fill="#2b2b2b" stroke="#2b2b2b" stroke-width="0.2">0.0</text>
<text x="411.60" y="545.00" font-size="9.59" textLength="91.40" lengthAdjust="spacingAndGlyphs" fill="#2b2b2b" stroke="#2b2b2b" stroke-width="0.2">Log2 fold-change in actively</text>
<text x="410.70" y="556.00" font-size="9.59" textLength="93.20" lengthAdjust="spacingAndGlyphs" fill="#2b2b2b" stroke="#2b2b2b" stroke-width="0.2">translated mRNA [Ribo-Lace]</text>
<text x="424.50" y="567.00" font-size="9.59" textLength="65.10" lengthAdjust="spacingAndGlyphs" fill="#2b2b2b" stroke="#2b2b2b" stroke-width="0.2">(mtRunx1/parental)</text>
<text transform="rotate(-90)" x="-305.70" y="360.60" font-size="8.58" textLength="51.40" lengthAdjust="spacingAndGlyphs" fill="#2b2b2b" stroke="#2b2b2b" stroke-width="0.2">GO_RIBOSOME</text>
<rect x="0.5" y="0.5" width="519" height="614" fill="none" stroke="#1a1a1a" stroke-width="1.2"/>
</svg>
</body></html>
